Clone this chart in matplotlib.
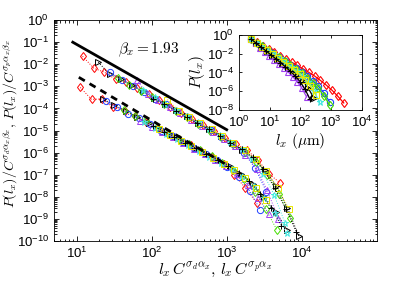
import numpy as np
import matplotlib.pyplot as plt
from matplotlib.ticker import LogLocator, NullFormatter

plt.rcParams['mathtext.fontset'] = 'cm'
plt.rcParams['font.family'] = ['Liberation Sans', 'DejaVu Sans']

# series style: (color, marker)
names = ["red", "blk_tri", "blue", "green", "purple", "cyan", "yellow", "blk_plus"]
colors = ["#ff0000", "#000000", "#2040ff", "#44dd00", "#a040f0", "#40e8e0", "#e8e800", "#000000"]
markers = ["d", ">", "o", "d", "^", "*", "s", "+"]

# main plot, upper group (log10 x, log10 y)
up_x = [
    [1.08, 1.23, 1.37, 1.52, 1.66, 1.81, 1.96, 2.10, 2.25, 2.39, 2.54, 2.69, 2.83, 2.98, 3.12, 3.27, 3.42, 3.56, 3.71],
    [1.29, 1.44, 1.59, 1.74, 1.88, 2.03, 2.18, 2.33, 2.47, 2.62, 2.77, 2.92, 3.07, 3.21, 3.36, 3.51, 3.66, 3.81, 3.96],
    [1.45, 1.60, 1.75, 1.90, 2.04, 2.19, 2.34, 2.49, 2.64, 2.79, 2.93, 3.08, 3.23, 3.38, 3.53],
    [1.55, 1.70, 1.86, 2.01, 2.16, 2.32, 2.47, 2.62, 2.78, 2.93, 3.08, 3.24, 3.39, 3.54, 3.70, 3.85],
    [1.80, 1.95, 2.09, 2.24, 2.38, 2.53, 2.67, 2.82, 2.96, 3.11, 3.25, 3.40, 3.54, 3.69],
    [1.89, 2.04, 2.18, 2.33, 2.47, 2.62, 2.76, 2.91, 3.05, 3.20, 3.34, 3.49, 3.63, 3.78],
    [2.21, 2.36, 2.50, 2.65, 2.80, 2.94, 3.09, 3.24, 3.39, 3.53, 3.68, 3.83],
    [2.02, 2.17, 2.32, 2.47, 2.61, 2.76, 2.91, 3.05, 3.20, 3.35, 3.49, 3.64, 3.79, 3.93],
]
up_y = [
    [-1.64, -2.18, -2.36, -2.68, -2.80, -3.07, -3.36, -3.63, -3.92, -4.19, -4.48, -4.77, -5.04, -5.33, -5.60, -5.88, -6.35, -6.95, -7.36],
    [-1.91, -2.45, -2.66, -2.95, -3.22, -3.51, -3.80, -4.09, -4.36, -4.65, -4.94, -5.23, -5.55, -5.90, -6.30, -6.80, -7.50, -8.50, -9.77],
    [-2.36, -2.70, -2.98, -3.25, -3.55, -3.82, -4.12, -4.40, -4.70, -4.98, -5.28, -5.60, -6.00, -6.70, -7.77],
    [-2.62, -2.92, -3.22, -3.50, -3.80, -4.12, -4.40, -4.70, -5.00, -5.30, -5.62, -5.98, -6.40, -7.00, -7.85, -8.95],
    [-2.72, -3.35, -3.62, -3.95, -4.20, -4.52, -4.78, -5.08, -5.38, -5.70, -6.10, -6.75, -7.70, -9.00],
    [-3.15, -3.50, -3.80, -4.05, -4.35, -4.62, -4.92, -5.20, -5.50, -5.85, -6.30, -6.95, -7.90, -9.20],
    [-3.60, -4.10, -4.38, -4.65, -4.95, -5.25, -5.55, -5.90, -6.30, -6.85, -7.60, -8.55],
    [-3.55, -3.80, -4.10, -4.40, -4.68, -4.95, -5.25, -5.55, -5.85, -6.20, -6.75, -7.60, -8.55, -9.60],
]

# main plot, lower group
lo_x = [
    [1.05, 1.20, 1.34, 1.49, 1.64, 1.78, 1.93, 2.08, 2.22, 2.37, 2.52, 2.66, 2.81, 2.96, 3.10, 3.25, 3.40],
    [1.35, 1.50, 1.66, 1.81, 1.96, 2.12, 2.27, 2.43, 2.58, 2.73, 2.89, 3.04, 3.19, 3.35, 3.50, 3.66, 3.81],
    [1.39, 1.54, 1.69, 1.83, 1.98, 2.13, 2.28, 2.42, 2.57, 2.72, 2.87, 3.01, 3.16, 3.31, 3.45],
    [1.63, 1.78, 1.92, 2.07, 2.21, 2.36, 2.50, 2.65, 2.80, 2.94, 3.09, 3.23, 3.38, 3.52, 3.67],
    [1.85, 2.00, 2.14, 2.28, 2.42, 2.57, 2.71, 2.85, 2.99, 3.14, 3.28, 3.42, 3.56],
    [1.90, 2.05, 2.19, 2.34, 2.48, 2.63, 2.77, 2.92, 3.07, 3.21, 3.36, 3.50, 3.65, 3.80],
    [2.10, 2.24, 2.39, 2.53, 2.67, 2.82, 2.96, 3.10, 3.25, 3.39, 3.53],
    [2.02, 2.16, 2.30, 2.45, 2.59, 2.73, 2.88, 3.02, 3.16, 3.30, 3.45, 3.59, 3.73],
]
lo_y = [
    [-3.05, -3.59, -3.57, -3.95, -4.10, -4.35, -4.62, -4.88, -5.13, -5.40, -5.67, -5.91, -6.20, -6.50, -7.00, -7.60, -8.27],
    [-3.55, -3.85, -4.12, -4.40, -4.66, -4.95, -5.22, -5.50, -5.77, -6.04, -6.32, -6.60, -6.95, -7.40, -8.00, -8.70, -9.50],
    [-3.68, -3.95, -4.27, -4.45, -4.72, -5.00, -5.25, -5.50, -5.78, -6.05, -6.32, -6.65, -7.10, -7.75, -8.60],
    [-4.05, -4.35, -4.50, -4.85, -5.10, -5.38, -5.62, -5.90, -6.17, -6.45, -6.78, -7.20, -7.80, -8.55, -9.50],
    [-4.55, -4.85, -5.05, -5.30, -5.55, -5.82, -6.05, -6.32, -6.60, -6.95, -7.45, -8.05, -8.77],
    [-4.62, -4.88, -5.15, -5.40, -5.65, -5.92, -6.18, -6.45, -6.72, -7.05, -7.50, -8.05, -8.75, -9.64],
    [-4.95, -5.20, -5.45, -5.72, -5.98, -6.25, -6.50, -6.78, -7.15, -7.60, -8.14],
    [-4.78, -5.05, -5.30, -5.55, -5.80, -6.05, -6.32, -6.60, -6.90, -7.30, -7.85, -8.50, -9.30],
]

# inset, raw data P(l_x) vs l_x (um)
in_x = [
    [0.39, 0.58, 0.77, 0.96, 1.15, 1.33, 1.52, 1.71, 1.90, 2.09, 2.28, 2.47, 2.65, 2.84, 3.03, 3.22, 3.41],
    [0.39, 0.56, 0.73, 0.90, 1.07, 1.24, 1.41, 1.58, 1.75, 1.92, 2.09, 2.26, 2.43],
    [0.39, 0.57, 0.76, 0.94, 1.12, 1.30, 1.49, 1.67, 1.85, 2.04, 2.22, 2.40, 2.58, 2.77, 2.95],
    [0.39, 0.57, 0.76, 0.94, 1.12, 1.30, 1.49, 1.67, 1.85, 2.04, 2.22, 2.40, 2.58, 2.77, 2.95],
    [0.39, 0.54, 0.69, 0.84, 0.99, 1.14, 1.29, 1.45, 1.60, 1.75, 1.90, 2.05, 2.20],
    [0.39, 0.58, 0.76, 0.95, 1.13, 1.32, 1.51, 1.69, 1.88, 2.06, 2.25, 2.43, 2.62],
    [0.39, 0.57, 0.74, 0.92, 1.09, 1.27, 1.44, 1.62, 1.80, 1.97, 2.15, 2.32, 2.50],
    [0.39, 0.55, 0.71, 0.87, 1.03, 1.19, 1.35, 1.51, 1.67, 1.83, 1.99, 2.15, 2.31],
]
in_y = [
    [-0.43, -0.80, -1.15, -1.50, -1.85, -2.20, -2.55, -2.90, -3.25, -3.62, -4.00, -4.40, -4.85, -5.35, -5.90, -6.55, -7.25],
    [-0.43, -0.85, -1.26, -1.68, -2.10, -2.52, -2.95, -3.40, -3.85, -4.35, -4.95, -5.70, -6.70],
    [-0.43, -0.82, -1.20, -1.58, -1.97, -2.35, -2.75, -3.15, -3.55, -3.97, -4.42, -4.90, -5.45, -6.20, -7.15],
    [-0.43, -0.83, -1.22, -1.60, -2.00, -2.40, -2.80, -3.22, -3.65, -4.10, -4.57, -5.10, -5.70, -6.50, -7.47],
    [-0.43, -0.90, -1.35, -1.80, -2.22, -2.65, -3.08, -3.50, -3.95, -4.45, -5.00, -5.70, -6.60],
    [-0.43, -0.85, -1.25, -1.66, -2.07, -2.50, -2.92, -3.38, -3.85, -4.38, -5.00, -5.95, -7.15],
    [-0.43, -0.84, -1.24, -1.65, -2.05, -2.45, -2.87, -3.30, -3.75, -4.20, -4.75, -5.45, -6.40],
    [-0.43, -0.86, -1.27, -1.68, -2.10, -2.52, -2.95, -3.40, -3.87, -4.38, -4.98, -5.80, -6.85],
]

# guide lines: y = amp * x^-beta
beta_solid, amp_solid, xr_solid = 1.93, 10**0.83, (10**0.95, 10**3.0)
beta_dash, amp_dash, xr_dash = 2.01, 10**(-0.52), (10**1.03, 10**3.02)


fig = plt.figure(figsize=(4.15, 2.82), dpi=100)
ax = fig.add_axes([0.130, 0.145, 0.778, 0.784])

for i in range(len(names)):
    for gx, gy in ((up_x, up_y), (lo_x, lo_y)):
        ax.plot(10**np.array(gx[i]), 10**np.array(gy[i]), linestyle=":", linewidth=0.7,
                color=colors[i], marker=markers[i], markersize=4.5, markerfacecolor="none",
                markeredgewidth=0.7)

xs = np.array(xr_solid)
ax.plot(xs, amp_solid * xs**-beta_solid, color="black", linewidth=2)
xd = np.array(xr_dash)
ax.plot(xd, amp_dash * xd**-beta_dash, color="black", linewidth=2, linestyle=(0, (2.5, 2)))
fig.text(118 / 415, 1 - 50 / 282, r"$\beta_x = 1.93$", fontsize=11, va="center")

ax.set_xscale("log")
ax.set_yscale("log")
ax.set_xlim(5, 1e5)
ax.set_ylim(1e-10, 1)
ax.set_xticks([1e1, 1e2, 1e3, 1e4])
ax.set_yticks([10.0**k for k in range(-10, 1)])
ax.yaxis.set_minor_locator(LogLocator(base=10, subs=np.arange(2, 10), numticks=100))
ax.yaxis.set_minor_formatter(NullFormatter())
ax.tick_params(which="both", direction="in", top=True, right=True, labelsize=9.5, width=0.6)
ax.tick_params(which="major", length=3.5)
ax.tick_params(which="minor", length=1.8)
for s in ax.spines.values():
    s.set_linewidth(0.6)
ax.set_xlabel(r"$l_x\,C^{\sigma_d\alpha_x},\,l_x\,C^{\sigma_p\alpha_x}$", fontsize=11.5, labelpad=0)
ax.set_ylabel(r"$P(l_x)/C^{\sigma_d\alpha_x\beta_x},\,P(l_x)/C^{\sigma_p\alpha_x\beta_x}$", fontsize=10)
ax.yaxis.set_label_coords(-0.105, 0.53)

# inset
axi = fig.add_axes([0.576, 0.610, 0.296, 0.266])
for i in range(len(names)):
    axi.plot(10**np.array(in_x[i]), 10**np.array(in_y[i]), linestyle="-", linewidth=0.9,
             color=colors[i], marker=markers[i], markersize=4.5, markerfacecolor="none",
             markeredgewidth=0.8)
axi.set_xscale("log")
axi.set_yscale("log")
axi.set_xlim(1, 1e4)
axi.set_ylim(1e-8, 1)
axi.set_xticks([1, 1e1, 1e2, 1e3, 1e4])
axi.set_yticks([1, 1e-2, 1e-4, 1e-6, 1e-8])
axi.yaxis.set_minor_formatter(NullFormatter())
axi.tick_params(which="both", direction="in", top=True, right=True, labelsize=9.5, width=0.6)
axi.tick_params(which="major", length=2.5)
axi.tick_params(which="minor", length=1.2)
for s in axi.spines.values():
    s.set_linewidth(0.6)
axi.set_xlabel(r"$l_x\ (\mu\mathrm{m})$", fontsize=11, labelpad=1)
axi.set_ylabel(r"$P(l_x)$", fontsize=11, labelpad=0)

fig.savefig("out.png", dpi=100)
